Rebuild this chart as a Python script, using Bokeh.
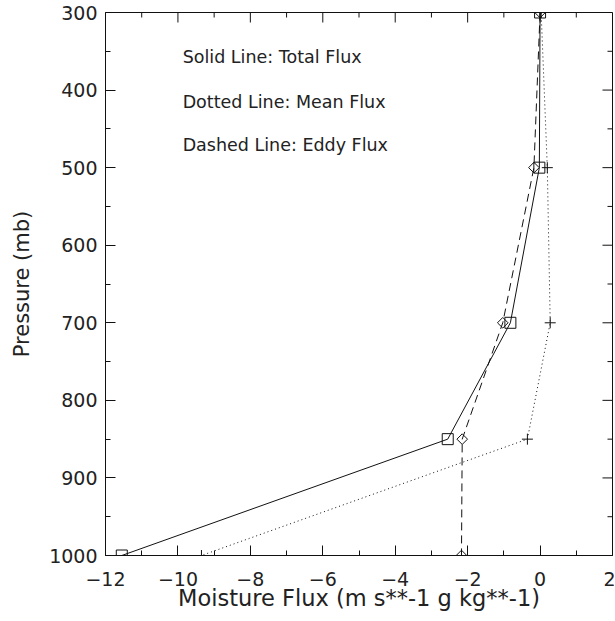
import math
from bokeh.plotting import figure
from bokeh.models import Range1d, FixedTicker, Label
from bokeh.embed import file_html
from bokeh.resources import INLINE

# ---- data -------------------------------------------------------------
pressure = [300, 500, 700, 850, 1000]
total_flux = [0.0, -0.02, -0.82, -2.55, -11.55]
mean_flux = [0.03, 0.20, 0.28, -0.35, -9.35]
eddy_flux = [0.0, -0.17, -1.03, -2.15, -2.17]

x_ticks = [-12, -10, -8, -6, -4, -2, 0, 2]
x_minor = [-11, -9, -7, -5, -3, -1, 1]
y_ticks = [300, 400, 500, 600, 700, 800, 900, 1000]
y_minor = [350, 450, 550, 650, 750, 850, 950]

notes = ["Solid Line: Total Flux", "Dotted Line: Mean Flux", "Dashed Line: Eddy Flux"]
note_x = -9.87
note_y = [358, 415, 471]

FONT = "DejaVu Sans"
INK = "#111111"
TXT = "#222222"

p = figure(width=615, height=621,
           x_range=Range1d(x_ticks[0], x_ticks[-1]),
           y_range=Range1d(y_ticks[-1], y_ticks[0]),
           output_backend="svg", toolbar_location=None,
           min_border_left=105, min_border_right=3,
           min_border_top=12, min_border_bottom=66,
           background_fill_color="white", border_fill_color="white")
p.xgrid.visible = False
p.ygrid.visible = False
p.outline_line_color = INK
p.outline_line_width = 1


def style_axis(ax, ticks, minor):
    ax.ticker = FixedTicker(ticks=ticks, minor_ticks=minor)
    ax.axis_line_color = INK
    ax.major_tick_line_color = INK
    ax.minor_tick_line_color = INK
    ax.major_tick_in = 10
    ax.major_tick_out = 0
    ax.minor_tick_in = 5
    ax.minor_tick_out = 0
    ax.major_label_text_font = FONT
    ax.major_label_text_font_size = "19px"
    ax.major_label_text_color = TXT


xb = p.xaxis[0]
style_axis(xb, x_ticks, x_minor)
xb.major_label_standoff = 16
xb.major_label_overrides = {t: ("\u2212" + str(-t) if t < 0 else str(t)) for t in x_ticks}
xb.axis_label = "Moisture Flux (m s**-1 g kg**-1)"
xb.axis_label_text_font = FONT
xb.axis_label_text_font_size = "22.5px"
xb.axis_label_text_font_style = "normal"
xb.axis_label_text_color = TXT
xb.axis_label_standoff = -4

yl = p.yaxis[0]
style_axis(yl, y_ticks, y_minor)
yl.major_label_standoff = 8
yl.axis_label = "Pressure (mb)"
yl.axis_label_text_font = FONT
yl.axis_label_text_font_size = "21px"
yl.axis_label_text_font_style = "normal"
yl.axis_label_text_color = TXT
yl.axis_label_standoff = 12

# mirrored ticks on the top and right edges (pointing inward)
p.ray(x_ticks, [y_ticks[0]] * len(x_ticks), length=10, length_units="screen",
      angle=-math.pi / 2, line_color=INK, line_width=1)
p.ray(x_minor, [y_ticks[0]] * len(x_minor), length=5, length_units="screen",
      angle=-math.pi / 2, line_color=INK, line_width=1)
p.ray([x_ticks[-1]] * len(y_ticks), y_ticks, length=10, length_units="screen",
      angle=math.pi, line_color=INK, line_width=1)
p.ray([x_ticks[-1]] * len(y_minor), y_minor, length=5, length_units="screen",
      angle=math.pi, line_color=INK, line_width=1)

# ---- series -----------------------------------------------------------
p.line(total_flux, pressure, line_color=INK, line_width=1)
p.scatter(total_flux, pressure, marker="square", size=11,
          fill_color=None, line_color=INK, line_width=1)

p.line(mean_flux, pressure, line_color=INK, line_width=1, line_dash="1 3")
p.scatter(mean_flux, pressure, marker="cross", size=11,
          line_color=INK, line_width=1)

p.line(eddy_flux, pressure, line_color=INK, line_width=1, line_dash="8 5")
p.scatter(eddy_flux, pressure, marker="square", angle=math.pi / 4, size=7.5,
          fill_color=None, line_color=INK, line_width=1)

for txt, yy in zip(notes, note_y):
    p.add_layout(Label(x=note_x, y=yy, text=txt,
                       text_align="left", text_baseline="middle",
                       text_font=FONT, text_font_size="17.5px", text_color=TXT))

open("out.html", "w").write(file_html(p, INLINE))
